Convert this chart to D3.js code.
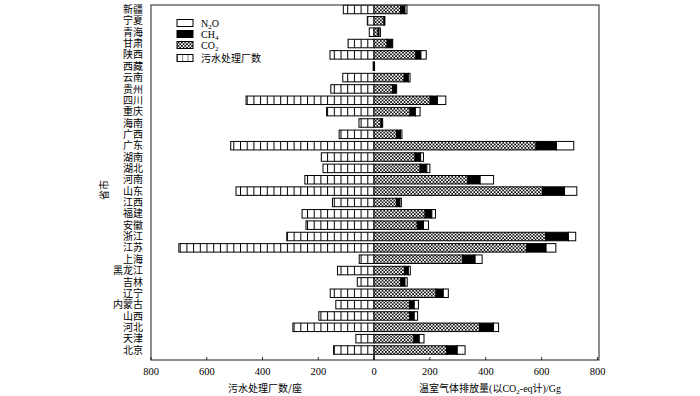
<!DOCTYPE html>
<head>
  <meta charset="utf-8">
  <style>
    body { margin: 0; background: #fff; }
    text { font-family: "Liberation Serif", "Noto Sans CJK SC", serif; fill: #000; }
    .cjk { font-family: "Noto Sans CJK SC", sans-serif; }
  </style>
</head>

<body>

  <script src="https://cdn.jsdelivr.net/npm/d3@7/dist/d3.min.js"></script>

  <script>
    // data, bottom (北京) to top (新疆)
    var provinces = ["北京", "天津", "河北", "山西", "内蒙古", "辽宁", "吉林", "黑龙江", "上海", "江苏",
                     "浙江", "安徽", "福建", "江西", "山东", "河南", "湖北", "湖南", "广东", "广西",
                     "海南", "重庆", "四川", "贵州", "云南", "西藏", "陕西", "甘肃", "青海", "宁夏", "新疆"];
    var plants = [145, 65, 291, 198, 137, 157, 60, 131, 53, 700,
                  313, 244, 258, 149, 495, 248, 183, 189, 514, 125,
                  54, 170, 459, 155, 112, 3, 158, 93, 17, 24, 110];
    var co2 = [260, 143, 378, 127, 127, 222, 96, 109, 318, 547,
               615, 155, 183, 81, 603, 336, 165, 147, 580, 81,
               25, 129, 201, 67, 108, 2, 150, 47, 15, 36, 96];
    var ch4 = [38, 19, 50, 17, 17, 26, 15, 14, 44, 69,
               81, 22, 24, 12, 79, 44, 24, 20, 73, 14,
               6, 19, 26, 14, 15, 0, 18, 20, 3, 3, 15];
    var n2o = [28, 17, 18, 12, 15, 18, 8, 7, 25, 35,
               26, 18, 13, 5, 44, 48, 11, 10, 62, 5,
               0, 17, 30, 0, 6, 0, 19, 0, 5, 0, 7];
    var xTicks = [0, 200, 400, 600, 800];

    var width = 700;
    var height = 396;
    var frame = {left: 151, right: 599, top: 5, bottom: 360};
    var zeroX = 374;

    var svg = d3.select("body")
                .append("svg")
                .attr("width", width)
                .attr("height", height);

    // patterns
    var defs = svg.append("defs");
    var pPlant = defs.append("pattern")
                     .attr("id", "plant")
                     .attr("patternUnits", "userSpaceOnUse")
                     .attr("x", zeroX)
                     .attr("width", 6.7)
                     .attr("height", 10);
    pPlant.append("rect").attr("width", 6.7).attr("height", 10).attr("fill", "#fff");
    pPlant.append("line").attr("x1", 0.5).attr("x2", 0.5).attr("y1", 0).attr("y2", 10)
          .attr("stroke", "#000").attr("stroke-width", 1);

    var pCo2 = defs.append("pattern")
                   .attr("id", "co2")
                   .attr("patternUnits", "userSpaceOnUse")
                   .attr("width", 3.4)
                   .attr("height", 3.4);
    pCo2.append("rect").attr("width", 3.4).attr("height", 3.4).attr("fill", "#fff");
    pCo2.append("path").attr("d", "M0,0L3.4,3.4M3.4,0L0,3.4")
        .attr("stroke", "#000").attr("stroke-width", 0.8);

    // scales
    var xL = d3.scaleLinear().domain([0, 800]).range([zeroX, frame.left]);
    var xR = d3.scaleLinear().domain([0, 800]).range([zeroX, 597.5]);
    var y = d3.scaleBand().domain(provinces).range([355.7, 3.8]).paddingInner(0.25).paddingOuter(0.125);

    var rows = provinces.map(function (p, i) {
      return {name: p, plants: plants[i], co2: co2[i], ch4: ch4[i], n2o: n2o[i]};
    });

    // left bars: number of plants
    svg.selectAll(".plant")
       .data(rows)
       .enter()
       .append("rect")
       .attr("class", "plant")
       .attr("x", function (d) { return xL(d.plants); })
       .attr("y", function (d) { return y(d.name); })
       .attr("width", function (d) { return xL(0) - xL(d.plants); })
       .attr("height", y.bandwidth())
       .attr("fill", "url(#plant)")
       .attr("stroke", "#000")
       .attr("stroke-width", 1);

    // right bars: stacked CO2, CH4, N2O
    var stack = d3.stack().keys(["co2", "ch4", "n2o"])(rows);
    var fills = {co2: "url(#co2)", ch4: "#000", n2o: "#fff"};

    svg.selectAll(".layer")
       .data(stack)
       .enter()
       .append("g")
       .attr("class", "layer")
       .attr("fill", function (s) { return fills[s.key]; })
       .selectAll("rect")
       .data(function (s) { return s.filter(function (d) { return d[1] > d[0]; }); })
       .enter()
       .append("rect")
       .attr("x", function (d) { return xR(d[0]); })
       .attr("y", function (d) { return y(d.data.name); })
       .attr("width", function (d) { return xR(d[1]) - xR(d[0]); })
       .attr("height", y.bandwidth())
       .attr("stroke", "#000")
       .attr("stroke-width", 1);

    // frame
    svg.append("rect")
       .attr("x", frame.left)
       .attr("y", frame.top)
       .attr("width", frame.right - frame.left)
       .attr("height", frame.bottom - frame.top)
       .attr("fill", "none")
       .attr("stroke", "#444")
       .attr("stroke-width", 1.2);

    // x ticks (inward) and labels
    var tickX = [];
    xTicks.forEach(function (t) {
      if (t > 0) tickX.push({x: xL(t), t: t});
      tickX.push({x: xR(t), t: t});
    });

    svg.selectAll(".xtick")
       .data(tickX)
       .enter()
       .append("line")
       .attr("x1", function (d) { return d.x; })
       .attr("x2", function (d) { return d.x; })
       .attr("y1", frame.bottom)
       .attr("y2", function (d) { return d.t === 0 ? frame.bottom - 5 : frame.bottom - 3; })
       .attr("stroke", "#000")
       .attr("stroke-width", function (d) { return d.t === 0 ? 1.6 : 0.8; });

    svg.selectAll(".xlabel")
       .data(tickX)
       .enter()
       .append("text")
       .attr("x", function (d) { return d.x; })
       .attr("y", 375)
       .attr("text-anchor", "middle")
       .attr("font-size", 10.5)
       .text(function (d) { return d.t; });

    // province labels
    svg.selectAll(".ylabel")
       .data(rows)
       .enter()
       .append("text")
       .attr("class", "cjk")
       .attr("x", 143)
       .attr("y", function (d) { return y(d.name) + y.bandwidth() / 2 + 3.6; })
       .attr("text-anchor", "end")
       .attr("font-size", 10)
       .text(function (d) { return d.name; });

    // axis titles
    svg.append("text")
       .attr("class", "cjk")
       .attr("transform", "translate(108,190) rotate(-90)")
       .attr("text-anchor", "middle")
       .attr("font-size", 10)
       .text("省市");

    svg.append("text")
       .attr("class", "cjk")
       .attr("x", 265)
       .attr("y", 392)
       .attr("text-anchor", "middle")
       .attr("font-size", 10)
       .text("污水处理厂数/座");

    var rt = svg.append("text")
       .attr("x", 490)
       .attr("y", 392)
       .attr("text-anchor", "middle")
       .attr("font-size", 10);
    rt.append("tspan").text("温室气体排放量(以CO");
    rt.append("tspan").attr("font-size", 7).attr("dy", 2).text("2");
    rt.append("tspan").attr("dy", -2).text("-eq计)/Gg");

    // legend
    var legend = [
      {fill: "#fff", label: "N", sub: "2", tail: "O", y: 23},
      {fill: "#000", label: "CH", sub: "4", tail: "", y: 34},
      {fill: "url(#co2)", label: "CO", sub: "2", tail: "", y: 45},
      {fill: "url(#legplant)", label: "污水处理厂数", sub: "", tail: "", y: 58}
    ];

    var pLeg = defs.append("pattern")
                   .attr("id", "legplant")
                   .attr("patternUnits", "userSpaceOnUse")
                   .attr("x", 177)
                   .attr("width", 5.3)
                   .attr("height", 10);
    pLeg.append("rect").attr("width", 5.3).attr("height", 10).attr("fill", "#fff");
    pLeg.append("line").attr("x1", 0).attr("x2", 0).attr("y1", 0).attr("y2", 10)
        .attr("stroke", "#000").attr("stroke-width", 1);

    var lg = svg.selectAll(".legend")
                .data(legend)
                .enter()
                .append("g")
                .attr("class", "legend");

    lg.append("rect")
      .attr("x", 177)
      .attr("y", function (d) { return d.y - 3.5; })
      .attr("width", 16)
      .attr("height", 7)
      .attr("fill", function (d) { return d.fill; })
      .attr("stroke", "#000")
      .attr("stroke-width", 1);

    var lt = lg.append("text")
      .attr("x", 201)
      .attr("y", function (d) { return d.y + 3.5; })
      .attr("font-size", 10);
    lt.append("tspan").text(function (d) { return d.label; });
    lt.append("tspan").attr("font-size", 7).attr("dy", 2).text(function (d) { return d.sub; });
    lt.append("tspan").attr("dy", -2).text(function (d) { return d.tail; });
  </script>

</body>
